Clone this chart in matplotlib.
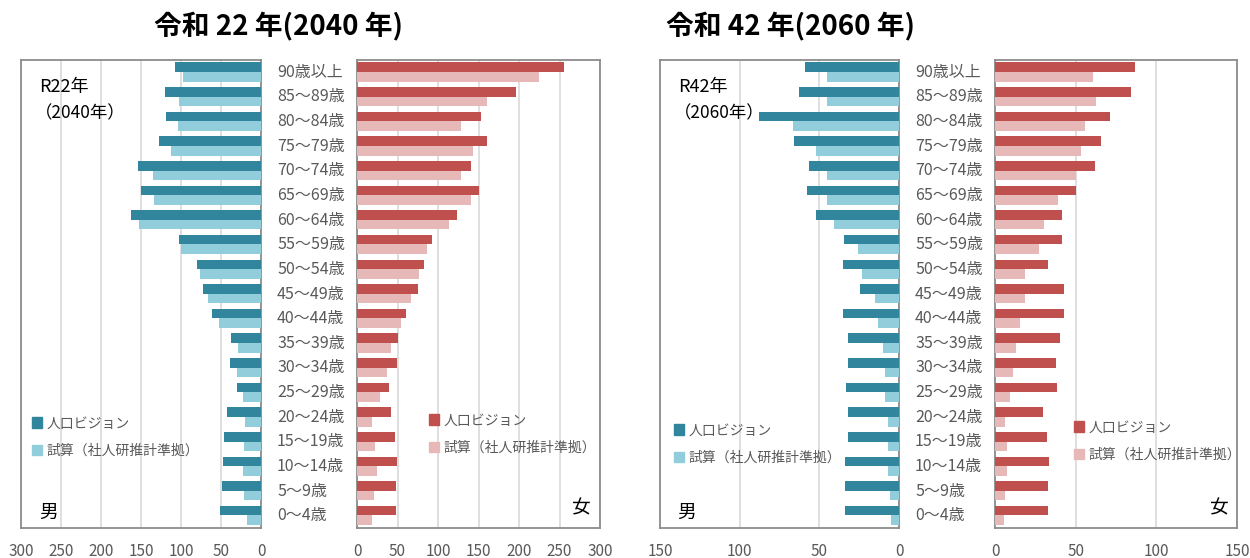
import matplotlib
matplotlib.use("Agg")
import matplotlib.pyplot as plt
from matplotlib.patches import Patch
from matplotlib import transforms
import numpy as np

plt.rcParams['font.family'] = ['Noto Sans CJK JP', 'DejaVu Sans']

# 年齢階級（下から上へ）
ages = ['0〜4歳', '5〜9歳', '10〜14歳', '15〜19歳', '20〜24歳', '25〜29歳', '30〜34歳',
        '35〜39歳', '40〜44歳', '45〜49歳', '50〜54歳', '55〜59歳', '60〜64歳', '65〜69歳',
        '70〜74歳', '75〜79歳', '80〜84歳', '85〜89歳', '90歳以上']

# 令和22年(2040年)
male_vision_2040 = [51, 49, 48, 46, 43, 30, 39, 37, 61, 73, 80, 103, 162, 150, 154, 127, 119, 120, 107]
male_trial_2040 = [18, 21, 22, 21, 20, 22, 30, 29, 53, 66, 76, 100, 152, 134, 135, 112, 104, 103, 97]
female_vision_2040 = [48, 48, 49, 47, 42, 40, 49, 50, 61, 75, 83, 93, 123, 151, 141, 161, 153, 196, 255]
female_trial_2040 = [18, 21, 25, 22, 19, 28, 37, 42, 54, 67, 77, 87, 114, 141, 128, 143, 129, 160, 225]

# 令和42年(2060年)
male_vision_2060 = [34, 34, 34, 32, 32, 33, 32, 32, 35, 24.5, 35, 34.5, 52, 57.5, 56.5, 66, 88, 63, 59]
male_trial_2060 = [5.3, 5.9, 6.9, 6.7, 6.7, 8.6, 9, 9.8, 13.2, 15, 23.5, 26, 41, 45.4, 45, 52, 66.4, 45, 45.4]
female_vision_2060 = [33, 32.7, 33.7, 32, 30, 38.3, 38, 40.5, 42.8, 42.6, 32.6, 41.5, 41.5, 50, 62, 65.5, 71, 84, 87]
female_trial_2060 = [5.5, 6.3, 7.4, 7.4, 6.5, 9.6, 11, 12.8, 15.6, 18.9, 18.8, 27.1, 30.4, 39.3, 50, 53, 56, 62.4, 61]

legend_labels = ['人口ビジョン', '試算（社人研推計準拠）']

TEAL = '#31859C'
TEAL_L = '#92CDDC'
RED = '#C0504D'
RED_L = '#E6B9B8'
GRAY_TXT = '#595959'

W, H = 1250, 558
fig = plt.figure(figsize=(12.5, 5.58), dpi=100)


def px_axes(x0, x1, y0, y1):
    return fig.add_axes([x0 / W, 1 - y1 / H, (x1 - x0) / W, (y1 - y0) / H])


def panel(ax, vision, trial, c1, c2, xmax, step, invert):
    y = np.arange(len(ages))
    h = 0.39
    ax.barh(y + h / 2 + 0.01, vision, height=h, color=c1, zorder=3)
    ax.barh(y - h / 2 + 0.01, trial, height=h, color=c2, zorder=3)
    ax.set_ylim(-0.5, len(ages) - 0.5)
    if invert:
        ax.set_xlim(xmax, 0)
    else:
        ax.set_xlim(0, xmax)
    ax.set_xticks(np.arange(0, xmax + 1, step))
    ax.set_yticks([])
    ax.grid(axis='x', color='#D9D9D9', lw=1.2, zorder=0)
    ax.tick_params(axis='x', length=0, pad=11, labelsize=11, labelcolor=GRAY_TXT)
    for s in ax.spines.values():
        s.set_color('#8C8C8C')
        s.set_linewidth(1.3)


def legend(ax, c1, c2, x, y):
    handles = [Patch(color=c1), Patch(color=c2)]
    ax.legend(handles, legend_labels, loc='center left', bbox_to_anchor=(x / W, 1 - y / H),
              bbox_transform=fig.transFigure, frameon=False, fontsize=10,
              labelcolor=GRAY_TXT, handlelength=0.75, handleheight=0.75,
              handletextpad=0.3, labelspacing=0.95, borderpad=0, borderaxespad=0)


# 左：2040年
axm1 = px_axes(21, 261, 60, 528)
axf1 = px_axes(357, 600, 60, 528)
panel(axm1, male_vision_2040, male_trial_2040, TEAL, TEAL_L, 300, 50, True)
panel(axf1, female_vision_2040, female_trial_2040, RED, RED_L, 300, 50, False)
legend(axm1, TEAL, TEAL_L, 32, 437)
legend(axf1, RED, RED_L, 429, 434)

# 右：2060年
axm2 = px_axes(660, 899, 60, 528)
axf2 = px_axes(995, 1237, 60, 528)
panel(axm2, male_vision_2060, male_trial_2060, TEAL, TEAL_L, 150, 50, True)
panel(axf2, female_vision_2060, female_trial_2060, RED, RED_L, 150, 50, False)
legend(axm2, TEAL, TEAL_L, 674, 444)
legend(axf2, RED, RED_L, 1074, 441)

# 年齢ラベル
for ax, x in [(axm1, 277), (axm2, 915)]:
    tr = transforms.blended_transform_factory(fig.transFigure, ax.transData)
    for i, a in enumerate(ages):
        ax.text(x / W, i, a, transform=tr, ha='left', va='center', fontsize=11.5,
                color=GRAY_TXT, clip_on=False)

# タイトル
fig.text(279 / W, 1 - 27 / H, '令和 22 年(2040 年)', ha='center', va='center',
         fontsize=20, fontweight='bold')
fig.text(791 / W, 1 - 27 / H, '令和 42 年(2060 年)', ha='center', va='center',
         fontsize=20, fontweight='bold')

# パネル内テキスト
for x, yr in [(39, 'R22年'), (678, 'R42年')]:
    fig.text(x / W, 1 - 87 / H, yr, ha='left', va='center', fontsize=13)
for x, yr in [(35, '（2040年）'), (674, '（2060年）')]:
    fig.text(x / W, 1 - 113 / H, yr, ha='left', va='center', fontsize=12.5)
for x in [49, 687]:
    fig.text(x / W, 1 - 512 / H, '男', ha='center', va='center', fontsize=13.5)
for x in [580, 1218]:
    fig.text(x / W, 1 - 508 / H, '女', ha='center', va='center', fontsize=13.5)

fig.savefig('out.png', dpi=100)
